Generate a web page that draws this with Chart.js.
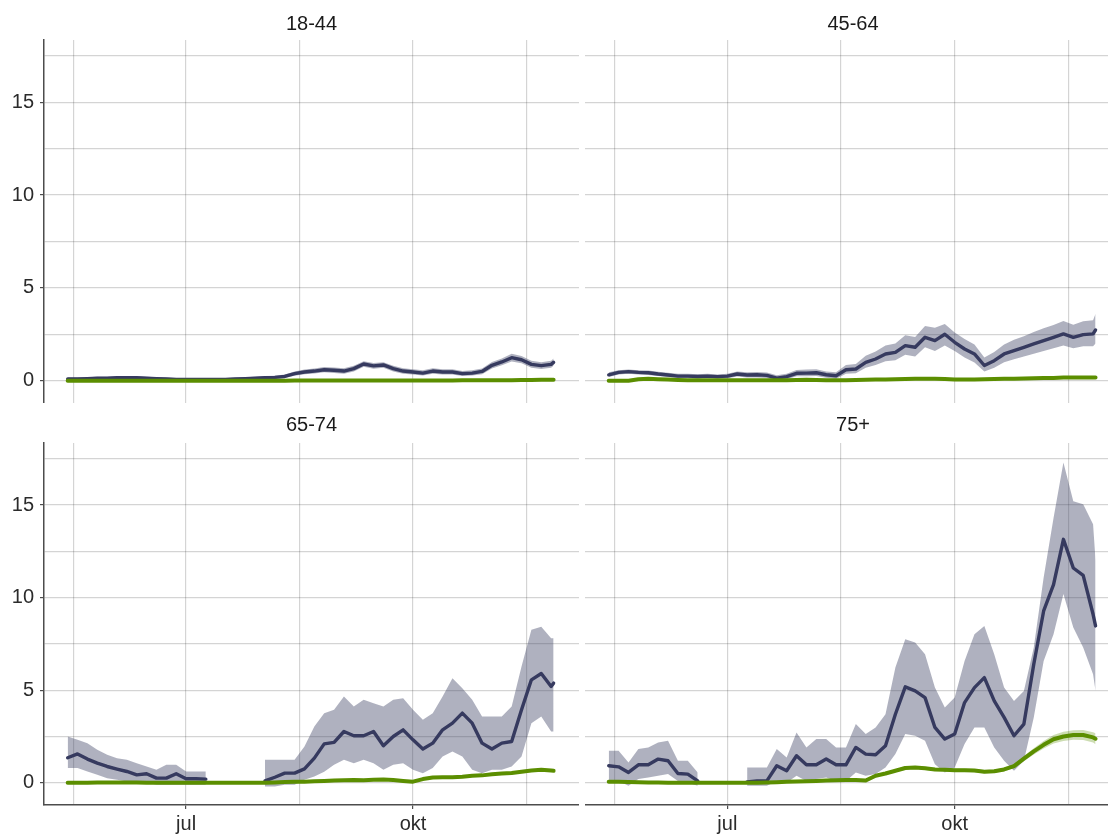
<!DOCTYPE html>
<html>
<head>
<meta charset="utf-8">
<script src="https://cdn.jsdelivr.net/npm/chart.js@4.4.1/dist/chart.umd.min.js"></script>
<style>
  html, body { margin: 0; padding: 0; background: #fff; overflow: hidden; }
  canvas { position: absolute; }
</style>
</head>
<body>
<canvas id="p1" width="579" height="403" style="left:0px;top:0px"></canvas>
<canvas id="p2" width="536" height="403" style="left:585px;top:0px"></canvas>
<canvas id="p3" width="579" height="431" style="left:0px;top:403px"></canvas>
<canvas id="p4" width="536" height="431" style="left:585px;top:403px"></canvas>
<script>
// day of year (1 jan = 0), every 4th day from 14 May to 27 Nov
const days = [134,138,142,146,150,154,158,162,166,170,174,178,182,186,190,194,198,202,206,210,214,218,222,226,230,
  234,238,242,246,250,254,258,262,266,270,274,278,282,286,290,294,298,302,306,310,314,318,322,326,330,331];

const xTicks = [136.5, 182, 228, 274, 320];
const xTickLabels = ['', 'jul', '', 'okt', ''];
const yTicks = [0, 2.5, 5, 7.5, 10, 12.5, 15, 17.5];
const yTickLabels = ['0', '', '5', '', '10', '', '15', ''];
const panelTitles = ['18-44', '45-64', '65-74', '75+'];

// 18-44
const navy18 = [0.09,0.09,0.11,0.13,0.14,0.16,0.16,0.16,0.14,0.11,0.09,0.07,0.07,0.07,0.07,0.07,0.07,0.09,0.11,0.14,
  0.16,0.18,0.23,0.38,0.47,0.52,0.59,0.56,0.52,0.65,0.9,0.8,0.85,0.65,0.52,0.47,0.41,0.52,0.47,0.47,
  0.38,0.41,0.5,0.83,1.01,1.24,1.13,0.88,0.81,0.88,0.99];
const navy18Hi = [0.17,0.17,0.19,0.21,0.22,0.24,0.24,0.24,0.22,0.19,0.17,0.15,0.15,0.15,0.15,0.15,0.15,0.17,0.19,0.22,
  0.25,0.27,0.33,0.5,0.6,0.66,0.74,0.71,0.67,0.8,1.05,0.95,1.0,0.8,0.67,0.62,0.56,0.67,0.62,0.62,
  0.52,0.56,0.66,1.01,1.2,1.45,1.33,1.07,1.0,1.07,1.2];
const navy18Lo = [0.02,0.02,0.04,0.06,0.07,0.09,0.09,0.09,0.07,0.04,0.02,0.0,0.0,0.0,0.0,0.0,0.0,0.02,0.04,0.07,
  0.08,0.1,0.14,0.27,0.35,0.39,0.45,0.42,0.38,0.5,0.75,0.65,0.7,0.5,0.38,0.33,0.28,0.38,0.33,0.33,
  0.25,0.28,0.35,0.66,0.83,1.04,0.94,0.7,0.63,0.7,0.8];
const green18 = [0,0,0,0,0,0,0,0,0,0,0,0,0,0,0,0,0,0,0,0,
  0,0,0,0.01,0.01,0.01,0.01,0.01,0.01,0.01,0.01,0.01,0.01,0.01,0.01,0.01,0.01,0.01,0.01,0.01,
  0.02,0.02,0.02,0.03,0.03,0.03,0.04,0.04,0.05,0.05,0.05];

// 45-64
const navy45 = [0.32,0.45,0.49,0.45,0.43,0.36,0.31,0.25,0.25,0.23,0.25,0.22,0.25,0.36,0.31,0.32,0.29,0.14,0.22,0.4,
  0.41,0.43,0.32,0.27,0.59,0.63,0.99,1.17,1.44,1.53,1.89,1.8,2.34,2.16,2.5,2.07,1.71,1.44,0.82,1.08,
  1.44,1.62,1.8,1.98,2.16,2.34,2.52,2.34,2.48,2.52,2.73];
const navy45Hi = [0.45,0.57,0.6,0.57,0.55,0.48,0.43,0.37,0.37,0.35,0.37,0.34,0.38,0.5,0.45,0.47,0.44,0.3,0.38,0.58,
  0.6,0.62,0.5,0.45,0.85,0.9,1.35,1.57,1.9,2.0,2.45,2.35,2.95,2.85,3.05,2.6,2.25,1.95,1.25,1.55,
  1.95,2.2,2.4,2.62,2.82,3.0,3.22,3.02,3.2,3.25,3.6];
const navy45Lo = [0.2,0.33,0.37,0.33,0.31,0.25,0.2,0.14,0.14,0.12,0.14,0.1,0.13,0.23,0.18,0.18,0.15,0.0,0.08,0.24,
  0.24,0.26,0.16,0.1,0.38,0.4,0.7,0.85,1.05,1.1,1.4,1.3,1.8,1.6,1.9,1.6,1.25,0.98,0.5,0.7,
  1.0,1.15,1.3,1.45,1.6,1.75,1.9,1.75,1.85,1.85,2.0];
const green45 = [0,0,0,0.08,0.1,0.08,0.06,0.04,0.03,0.03,0.03,0.03,0.03,0.03,0.03,0.03,0.03,0.03,0.03,0.04,
  0.05,0.04,0.03,0.02,0.03,0.04,0.05,0.06,0.07,0.08,0.09,0.1,0.1,0.1,0.09,0.07,0.06,0.07,0.08,0.09,
  0.1,0.11,0.12,0.13,0.14,0.15,0.17,0.18,0.17,0.18,0.18];

// 65-74
const navy65 = [1.35,1.56,1.28,1.06,0.88,0.74,0.61,0.43,0.49,0.25,0.25,0.49,0.22,0.22,0.2,null,null,null,null,null,
  0.1,0.3,0.52,0.52,0.75,1.33,2.1,2.18,2.77,2.54,2.54,2.77,2.0,2.5,2.86,2.32,1.82,2.14,2.86,3.22,
  3.76,3.22,2.14,1.82,2.14,2.23,3.94,5.56,5.9,5.2,5.38];
const navy65Hi = [2.5,2.32,2.14,1.78,1.51,1.33,1.24,1.06,0.88,0.7,0.97,0.97,0.61,0.61,0.61,null,null,null,null,null,
  1.24,1.24,1.24,1.24,1.96,3.04,3.76,3.94,4.66,4.12,4.48,4.3,4.12,4.48,4.57,3.94,3.4,3.76,4.66,5.65,
  5.1,4.48,3.58,3.58,3.58,4.12,6.28,8.26,8.43,7.8,7.8];
const navy65Lo = [0.8,0.8,0.61,0.43,0.25,0.16,0.07,0.07,0.02,-0.1,-0.1,-0.1,-0.1,-0.1,-0.1,null,null,null,null,null,
  -0.2,-0.2,-0.1,-0.1,0.16,0.34,0.6,0.97,1.24,1.06,1.24,1.06,0.7,0.97,1.06,0.7,0.52,0.8,1.42,1.69,
  1.42,0.7,0.52,0.7,0.7,0.88,1.42,3.22,3.58,2.77,2.77];
const green65 = [0,0,0,0.02,0.02,0.02,0.02,0.01,0,0,0,0,0,0,0,0,0,0,0,0,
  0,0.02,0.04,0.05,0.06,0.08,0.1,0.12,0.14,0.15,0.14,0.16,0.18,0.15,0.1,0.06,0.2,0.28,0.3,0.3,
  0.33,0.38,0.4,0.46,0.5,0.53,0.6,0.66,0.7,0.66,0.65];

// 75+
const navy75 = [0.92,0.86,0.56,0.97,0.97,1.28,1.19,0.5,0.47,0.1,null,null,null,null,0.05,0.1,0.1,0.92,0.65,1.46,
  0.97,0.97,1.28,0.97,0.97,1.91,1.55,1.51,2.0,3.7,5.18,4.96,4.6,2.99,2.36,2.63,4.33,5.14,5.68,4.42,
  3.53,2.54,3.17,6.4,9.28,10.7,13.15,11.6,11.2,9.1,8.47];
const navy75Hi = [1.73,1.73,1.1,1.82,1.9,2.18,2.27,1.19,1.19,0.56,null,null,null,null,0.83,0.83,0.83,1.82,1.37,2.72,
  1.91,2.36,2.36,1.91,1.91,3.17,2.63,2.99,3.7,6.22,7.75,7.57,6.94,5.14,4.06,4.6,6.58,8.02,8.47,6.94,
  5.14,4.42,4.96,7.3,11.08,14.3,17.3,15.2,15.04,13.96,12.0];
const navy75Lo = [0.1,0.1,-0.16,0.2,0.29,0.38,0.47,0.1,0,-0.16,null,null,null,null,-0.16,-0.16,-0.16,0.1,0,0.38,
  0.1,0.2,0.29,0.1,0.1,0.56,0.38,0.47,0.83,1.55,2.63,2.54,2.27,1.0,0.56,0.83,2.09,2.99,2.99,1.91,
  1.19,0.65,1.19,3.53,6.58,8.02,10.2,8.38,7.3,5.86,4.96];
const green75 = [0.05,0.05,0.04,0.03,0.02,0.01,0,0,0,0,0,0,0,0,0,0,0.01,0.03,0.05,0.07,
  0.08,0.1,0.12,0.14,0.15,0.15,0.12,0.38,0.5,0.65,0.8,0.82,0.78,0.72,0.7,0.68,0.68,0.66,0.6,0.62,
  0.72,0.9,1.3,1.7,2.05,2.35,2.5,2.58,2.58,2.45,2.38];
const green75Hi = [0.09,0.09,0.07,0.06,0.04,0.03,0.02,0.02,0.02,0.02,0.02,0.02,0.02,0.02,0.02,0.02,0.03,0.05,0.08,0.1,
  0.11,0.14,0.16,0.18,0.2,0.2,0.16,0.44,0.57,0.73,0.89,0.91,0.87,0.81,0.79,0.77,0.77,0.75,0.69,0.71,
  0.82,1.01,1.44,1.87,2.25,2.58,2.75,2.84,2.85,2.73,2.68];
const green75Lo = [0.01,0.01,0.01,0,0,-0.01,-0.02,-0.02,-0.02,-0.02,-0.02,-0.02,-0.02,-0.02,-0.02,-0.02,-0.01,0.01,0.02,0.04,
  0.05,0.06,0.08,0.1,0.1,0.1,0.08,0.32,0.43,0.57,0.71,0.73,0.69,0.63,0.61,0.59,0.59,0.57,0.51,0.53,
  0.62,0.79,1.16,1.53,1.85,2.12,2.25,2.32,2.31,2.17,2.08];

const NAVY = '#363a5f';
const NAVY_BAND = 'rgba(56,59,96,0.4)';
const GREEN = '#5b8e00';
const GREEN_BAND = 'rgba(91,142,0,0.3)';
const GRID = 'rgba(0,0,0,0.17)';
const AXIS = '#4d4d4d';
const TXT = '#2b2b2b';
const FONT = "'Liberation Sans', Arial, sans-serif";

Chart.defaults.font.family = FONT;

function pts(arr) {
  return days.map((d, i) => ({ x: d, y: arr[i] }));
}

function makePanel(id, title, s, left, bottom, padTop, padBottom) {
  const datasets = [
    { data: pts(s.green), borderColor: GREEN, borderWidth: 4, fill: false, order: 0 },
    { data: pts(s.navy), borderColor: NAVY, borderWidth: 3.4, fill: false, order: 1 },
    { data: pts(s.hi), borderColor: 'transparent', borderWidth: 0, backgroundColor: NAVY_BAND, fill: '+1', order: 4 },
    { data: pts(s.lo), borderColor: 'transparent', borderWidth: 0, fill: false, order: 5 }
  ];
  if (s.greenHi) {
    datasets.push({ data: pts(s.greenHi), borderColor: 'transparent', borderWidth: 0, backgroundColor: GREEN_BAND, fill: '+1', order: 2 });
    datasets.push({ data: pts(s.greenLo), borderColor: 'transparent', borderWidth: 0, fill: false, order: 3 });
  }

  new Chart(document.getElementById(id), {
    type: 'line',
    data: { datasets: datasets },
    options: {
      responsive: false,
      animation: false,
      layout: { padding: 0 },
      elements: {
        point: { radius: 0 },
        line: { tension: 0, borderJoinStyle: 'round', borderCapStyle: 'round' }
      },
      plugins: {
        legend: { display: false },
        tooltip: { enabled: false },
        title: {
          display: true,
          text: title,
          fullSize: false,
          color: '#1a1a1a',
          font: { family: FONT, size: 20, weight: 'normal' },
          padding: { top: padTop, bottom: padBottom }
        }
      },
      scales: {
        x: {
          type: 'linear',
          min: 124.4,
          max: 341.3,
          afterBuildTicks: sc => { sc.ticks = xTicks.map(v => ({ value: v })); },
          afterFit: sc => { sc.height = bottom ? 29 : 0; sc.paddingLeft = 0; sc.paddingRight = 0; },
          ticks: {
            display: bottom, autoSkip: false, maxRotation: 0, padding: 3, color: TXT,
            font: { family: FONT, size: 20 },
            callback: (v, i) => xTickLabels[i]
          },
          grid: {
            color: GRID, lineWidth: 1.2, drawTicks: bottom, tickLength: 4,
            tickColor: ctx => xTickLabels[ctx.index] ? AXIS : 'transparent'
          },
          border: { display: bottom, color: AXIS, width: 1.5 }
        },
        y: {
          min: -1.2,
          max: 18.35,
          afterBuildTicks: sc => { sc.ticks = yTicks.map(v => ({ value: v })); },
          afterFit: sc => { sc.width = left ? 44 : 0; sc.paddingTop = 0; sc.paddingBottom = 0; },
          ticks: {
            display: left, padding: 6, color: TXT,
            font: { family: FONT, size: 20 },
            callback: (v, i) => yTickLabels[i]
          },
          grid: {
            color: GRID, lineWidth: 1.2, drawTicks: left, tickLength: 4,
            tickColor: ctx => yTickLabels[ctx.index] ? AXIS : 'transparent'
          },
          border: { display: left, color: AXIS, width: 1.5 }
        }
      }
    }
  });
}

makePanel('p1', panelTitles[0], { navy: navy18, hi: navy18Hi, lo: navy18Lo, green: green18 }, true, false, 12, 4);
makePanel('p2', panelTitles[1], { navy: navy45, hi: navy45Hi, lo: navy45Lo, green: green45 }, false, false, 12, 4);
makePanel('p3', panelTitles[2], { navy: navy65, hi: navy65Hi, lo: navy65Lo, green: green65 }, true, true, 10, 6);
makePanel('p4', panelTitles[3], { navy: navy75, hi: navy75Hi, lo: navy75Lo, green: green75, greenHi: green75Hi, greenLo: green75Lo }, false, true, 10, 6);
</script>
</body>
</html>
